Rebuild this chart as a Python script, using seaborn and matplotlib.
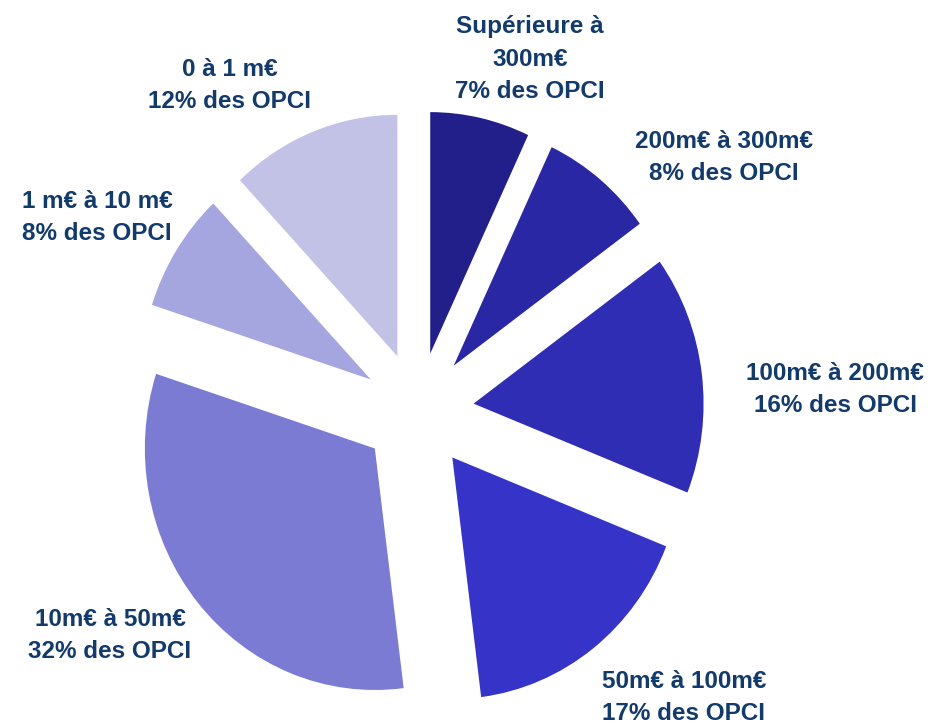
import matplotlib
matplotlib.use("Agg")
import matplotlib.pyplot as plt
import seaborn as sns

# Répartition des OPCI par taille d'actif (en % du nombre d'OPCI)
categories = [
    "Supérieure à\n300m€",
    "200m€ à 300m€",
    "100m€ à 200m€",
    "50m€ à 100m€",
    "10m€ à 50m€",
    "1 m€ à 10 m€",
    "0 à 1 m€",
]
shares = [7, 8, 16, 17, 32, 8, 12]
colors = ["#221f8a", "#2a27a5", "#302db5", "#3533c8", "#7b7bd4", "#a5a5e0", "#c2c2e6"]

# label anchor positions (pixel grid, origin top-left)
label_xy = [(530, 59), (724, 158), (835, 389), (684, 697), (110, 636), (97, 218), (230, 86)]

W, H = 931, 723
Y_STRETCH = 1.05  # pie is drawn slightly taller than wide

sns.set_theme(style="white")
plt.rcParams["font.family"] = ["Liberation Sans", "DejaVu Sans"]

fig = plt.figure(figsize=(W / 100, H / 100), dpi=100)
ax = fig.add_axes([0, 0, 1, 1])

radius = 230
center = (418, (H - 411) / Y_STRETCH)
# explode offsets are in data units
ax.pie(
    shares,
    colors=colors,
    startangle=90,
    counterclock=False,
    radius=radius,
    center=center,
    explode=[56] * len(shares),
    wedgeprops=dict(linewidth=0),
)

text_color = "#123a6b"
for cat, val, (x, y) in zip(categories, shares, label_xy):
    ax.text(x / W, 1 - y / H, f"{cat}\n{val}% des OPCI", transform=ax.transAxes,
            ha="center", va="center", fontsize=17.5, fontweight="bold",
            color=text_color, linespacing=1.5)

ax.set_aspect("auto")
ax.set_xlim(0, W)
ax.set_ylim(0, H / Y_STRETCH)
ax.axis("off")
fig.savefig("out.png", dpi=100, facecolor="white")
